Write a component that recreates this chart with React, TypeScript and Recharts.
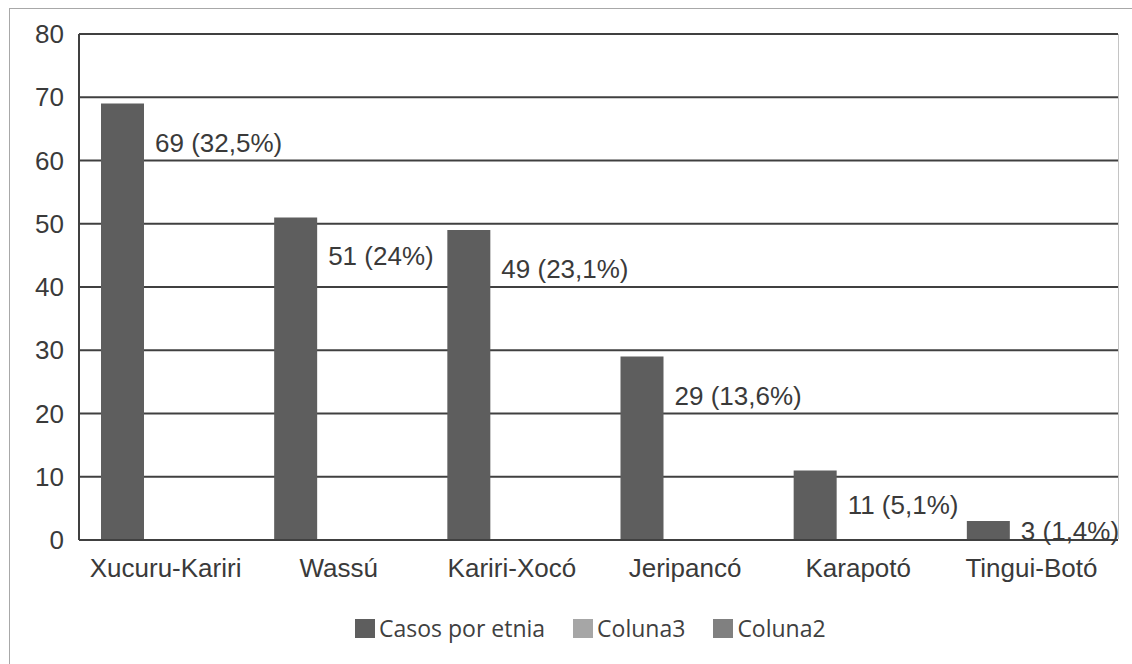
import React from "react";
import {
  BarChart,
  Bar,
  XAxis,
  YAxis,
  CartesianGrid,
  LabelList,
} from "recharts";

const etnias = [
  "Xucuru-Kariri",
  "Wassú",
  "Kariri-Xocó",
  "Jeripancó",
  "Karapotó",
  "Tingui-Botó",
];
const casos = [69, 51, 49, 29, 11, 3];
const percentuais = ["32,5%", "24%", "23,1%", "13,6%", "5,1%", "1,4%"];
const yTicks = [0, 10, 20, 30, 40, 50, 60, 70, 80];

const series = [
  { key: "casos", name: "Casos por etnia", color: "#5e5e5e" },
  { key: "coluna3", name: "Coluna3", color: "#a6a6a6" },
  { key: "coluna2", name: "Coluna2", color: "#808080" },
];

const data = etnias.map((etnia, i) => ({
  etnia,
  casos: casos[i],
  coluna3: null,
  coluna2: null,
  rotulo: `${casos[i]} (${percentuais[i]})`,
}));

const FONT = "'Liberation Sans', Arial, sans-serif";

// value label sits to the right of the bar, a little below its top
const SideLabel = (props: any) => {
  const { x, y, width, height, value } = props;
  const dy = Math.min(39, height / 2);
  return (
    <text
      x={x + width + 11}
      y={y + dy}
      dominantBaseline="central"
      textAnchor="start"
      fill="#3a3a3a"
      fontSize={26}
      fontFamily={FONT}
    >
      {value}
    </text>
  );
};

const App: React.FC = () => {
  return (
    <div
      style={{
        position: "absolute",
        left: 0,
        top: 0,
        width: 1132,
        height: 664,
        background: "#fff",
        overflow: "hidden",
      }}
    >
      <div
        style={{
          position: "absolute",
          left: 9,
          top: 8,
          width: 1140,
          height: 680,
          border: "1px solid #a8a8a8",
        }}
      />
      <div style={{ position: "absolute", left: 0, top: 0 }}>
        <BarChart
          width={1132}
          height={664}
          data={data}
          margin={{ top: 34, right: 14, bottom: 94, left: 0 }}
          barGap={0}
          barCategoryGap={22}
        >
          <CartesianGrid
            horizontal={true}
            vertical={false}
            stroke="#404040"
            strokeWidth={2}
          />
          <XAxis
            dataKey="etnia"
            height={30}
            axisLine={{ stroke: "#404040", strokeWidth: 2 }}
            tickLine={false}
            tickMargin={13}
            tick={{ fill: "#3a3a3a", fontSize: 26, fontFamily: FONT }}
            interval={0}
          />
          <YAxis
            width={79}
            domain={[0, 80]}
            ticks={yTicks}
            axisLine={{ stroke: "#404040", strokeWidth: 2 }}
            tickLine={false}
            tickMargin={9}
            tick={{ fill: "#3a3a3a", fontSize: 26, fontFamily: FONT }}
          />
          {series.map((s) => (
            <Bar
              key={s.key}
              dataKey={s.key}
              name={s.name}
              fill={s.color}
              isAnimationActive={false}
            >
              {s.key === "casos" && (
                <LabelList dataKey="rotulo" content={SideLabel} />
              )}
            </Bar>
          ))}
        </BarChart>
      </div>
      {/* right edge of the plot area */}
      <div
        style={{
          position: "absolute",
          left: 1118,
          top: 34,
          width: 1,
          height: 505,
          background: "#c4c4c4",
        }}
      />
      <div
        style={{
          position: "absolute",
          top: 613,
          left: 355,
          height: 30,
          display: "flex",
          alignItems: "center",
          fontFamily: "'Open Sans', 'Noto Sans', sans-serif",
          fontSize: 23,
          color: "#404040",
          whiteSpace: "nowrap",
        }}
      >
        {series.map((s) => (
          <div
            key={s.key}
            style={{ display: "flex", alignItems: "center", marginRight: 28 }}
          >
            <span
              style={{
                display: "inline-block",
                width: 20,
                height: 19,
                background: s.color,
                marginRight: 4,
              }}
            />
            <span>{s.name}</span>
          </div>
        ))}
      </div>
    </div>
  );
};

export default App;
